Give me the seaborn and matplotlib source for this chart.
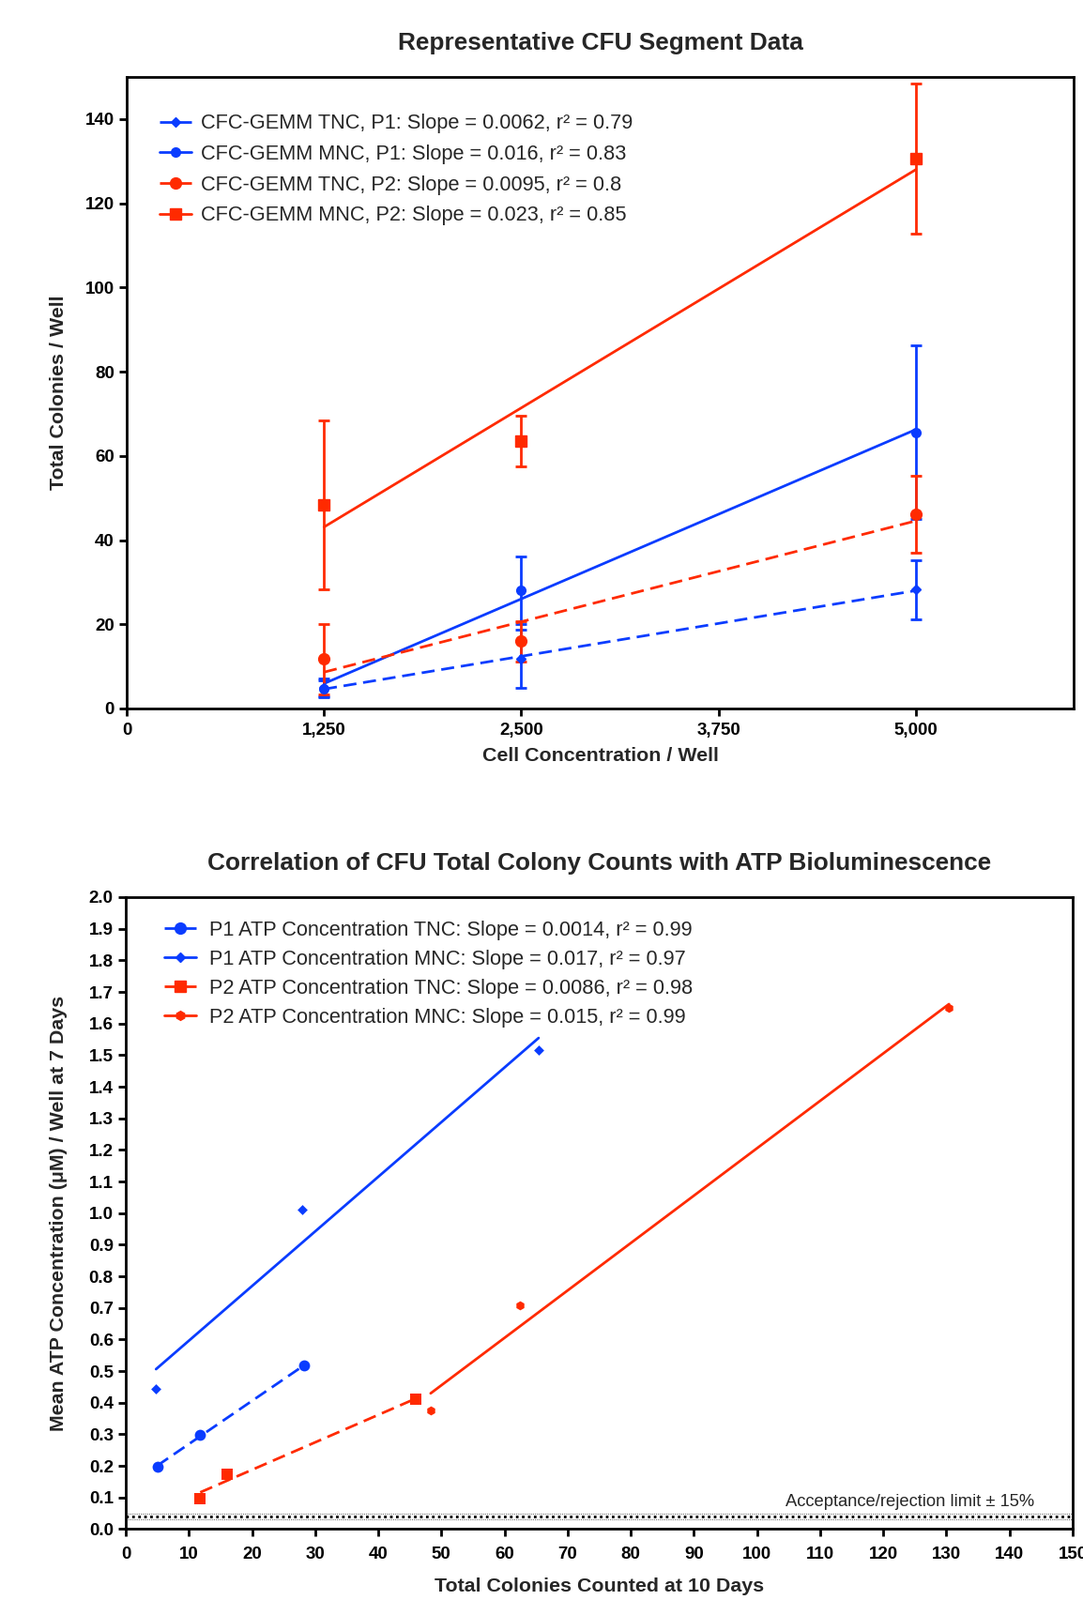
import numpy as np
import matplotlib
matplotlib.use("Agg")
import matplotlib.pyplot as plt
import seaborn as sns
from matplotlib.lines import Line2D

# ---------------- data: top chart ----------------
cell_conc = [1250, 2500, 5000]
tnc_p1_mean = [5.0, 11.8, 28.2]
tnc_p1_err = [2.2, 7.0, 7.0]
mnc_p1_mean = [4.6, 28.0, 65.6]
mnc_p1_err = [2.0, 8.0, 20.6]
tnc_p2_mean = [11.7, 16.0, 46.1]
tnc_p2_err = [8.4, 4.8, 9.2]
mnc_p2_mean = [48.3, 63.6, 130.6]
mnc_p2_err = [20.1, 6.0, 17.9]

top_labels = [
    "CFC-GEMM TNC, P1: Slope = 0.0062, r² = 0.79",
    "CFC-GEMM MNC, P1: Slope = 0.016, r² = 0.83",
    "CFC-GEMM TNC, P2: Slope = 0.0095, r² = 0.8",
    "CFC-GEMM MNC, P2: Slope = 0.023, r² = 0.85",
]
top_xticks = [0, 1250, 2500, 3750, 5000]
top_xticklabels = ["0", "1,250", "2,500", "3,750", "5,000"]
top_yticks = [0, 20, 40, 60, 80, 100, 120, 140]

# ---------------- data: bottom chart ----------------
p1_tnc_x = [5.0, 11.8, 28.3]
p1_tnc_y = [0.198, 0.298, 0.518]
p1_mnc_x = [4.8, 28.0, 65.4]
p1_mnc_y = [0.443, 1.01, 1.515]
p2_tnc_x = [11.8, 16.0, 46.0]
p2_tnc_y = [0.097, 0.175, 0.411]
p2_mnc_x = [48.3, 62.5, 130.4]
p2_mnc_y = [0.375, 0.709, 1.65]

bottom_labels = [
    "P1 ATP Concentration TNC: Slope = 0.0014, r² = 0.99",
    "P1 ATP Concentration MNC: Slope = 0.017, r² = 0.97",
    "P2 ATP Concentration TNC: Slope = 0.0086, r² = 0.98",
    "P2 ATP Concentration MNC: Slope = 0.015, r² = 0.99",
]
bottom_xticks = list(range(0, 151, 10))
bottom_yticks = [round(0.1 * i, 1) for i in range(21)]
acceptance_mid = 0.04
acceptance_band = [0.031, 0.05]
acceptance_text = "Acceptance/rejection limit ± 15%"

# ---------------- style ----------------
sns.set_theme(style="ticks")
plt.rcParams["font.family"] = ["Liberation Sans", "DejaVu Sans"]
plt.rcParams["axes.linewidth"] = 2.0
plt.rcParams["axes.edgecolor"] = "black"
plt.rcParams["xtick.major.width"] = 2.0
plt.rcParams["ytick.major.width"] = 2.0
plt.rcParams["xtick.major.size"] = 6
plt.rcParams["ytick.major.size"] = 6
plt.rcParams["xtick.color"] = "black"
plt.rcParams["ytick.color"] = "black"

BLUE = "#0a3cff"
RED = "#ff2a00"
DASH = (0, (5, 2.6))
TITLE_FS = 18.9
LABEL_FS = 15.4
TICK_FS = 13.5
LEG_FS = 15.7

fig = plt.figure(figsize=(11.54, 17.05), dpi=100)
ax1 = fig.add_axes([0.1170, 0.5572, 0.8744, 0.3947])
ax2 = fig.add_axes([0.1161, 0.0443, 0.8744, 0.3950])

# ---------------- top chart ----------------
top_series = [
    (tnc_p1_mean, tnc_p1_err, BLUE, DASH, "D", 5.5),
    (mnc_p1_mean, mnc_p1_err, BLUE, "-", "o", 7),
    (tnc_p2_mean, tnc_p2_err, RED, DASH, "o", 8.5),
    (mnc_p2_mean, mnc_p2_err, RED, "-", "s", 8.5),
]
handles_top = []
for mean, err, col, ls, mk, ms in top_series:
    sns.regplot(x=np.array(cell_conc, float), y=np.array(mean, float), ax=ax1,
                ci=None, truncate=True, scatter=False, color=col,
                line_kws=dict(lw=2.0, ls=ls))
    ax1.errorbar(cell_conc, mean, yerr=err, fmt=mk, ms=ms, color=col,
                 mec=col, elinewidth=2.0, capsize=4.5, capthick=2.0, ls="none")
    handles_top.append(Line2D([], [], color=col, ls=ls, lw=2.0, marker=mk,
                              ms=ms, mec=col))

ax1.set_xlim(0, 6000)
ax1.set_ylim(0, 150)
ax1.set_xticks(top_xticks)
ax1.set_xticklabels(top_xticklabels)
ax1.set_yticks(top_yticks)
ax1.set_title("Representative CFU Segment Data", fontsize=TITLE_FS,
              fontweight="bold", pad=21)
ax1.set_xlabel("Cell Concentration / Well", fontsize=LABEL_FS,
               fontweight="bold", labelpad=7)
ax1.set_ylabel("Total Colonies / Well", fontsize=LABEL_FS, fontweight="bold",
               labelpad=13.7)
ax1.legend(handles_top, top_labels, loc="upper left",
           bbox_to_anchor=(0.015, 0.971), frameon=False, fontsize=LEG_FS,
           handlelength=1.55, handletextpad=0.5, labelspacing=0.54,
           numpoints=1)

# ---------------- bottom chart ----------------
bottom_series = [
    (p1_tnc_x, p1_tnc_y, BLUE, DASH, "o", 8.5),
    (p1_mnc_x, p1_mnc_y, BLUE, "-", "D", 5.5),
    (p2_tnc_x, p2_tnc_y, RED, DASH, "s", 9),
    (p2_mnc_x, p2_mnc_y, RED, "-", "h", 7),
]
handles_bot = []
for xs, ys, col, ls, mk, ms in bottom_series:
    sns.regplot(x=np.array(xs, float), y=np.array(ys, float), ax=ax2,
                ci=None, truncate=True, scatter=False, color=col,
                line_kws=dict(lw=2.0, ls=ls))
    sns.scatterplot(x=xs, y=ys, ax=ax2, marker=mk, s=ms ** 2, color=col,
                    edgecolor=col, linewidth=0, zorder=3)
    handles_bot.append(Line2D([], [], color=col, ls=ls, lw=2.0, marker=mk,
                              ms=ms, mec=col))

ax2.axhline(acceptance_mid, color="black", ls=(0, (1, 1.3)), lw=2.0, zorder=1)
for v in acceptance_band:
    ax2.axhline(v, color="0.45", ls=(0, (1, 1)), lw=0.8, zorder=1)
ax2.text(143.9, 0.087, acceptance_text, ha="right", va="center", fontsize=13.2)

ax2.set_xlim(0, 150)
ax2.set_ylim(0, 2.0)
ax2.set_xticks(bottom_xticks)
ax2.set_xticklabels([str(v) for v in bottom_xticks])
ax2.set_yticks(bottom_yticks)
ax2.set_yticklabels([f"{v:.1f}" for v in bottom_yticks])
ax2.set_title("Correlation of CFU Total Colony Counts with ATP Bioluminescence",
              fontsize=TITLE_FS, fontweight="bold", pad=21)
ax2.set_xlabel("Total Colonies Counted at 10 Days", fontsize=LABEL_FS,
               fontweight="bold", labelpad=12)
ax2.set_ylabel("Mean ATP Concentration (μM) / Well at 7 Days", fontsize=LABEL_FS,
               fontweight="bold", labelpad=16.3)
ax2.legend(handles_bot, bottom_labels, loc="upper left",
           bbox_to_anchor=(0.021, 0.992), frameon=False, fontsize=LEG_FS,
           handlelength=1.55, handletextpad=0.65, labelspacing=0.46,
           numpoints=1)

for ax in (ax1, ax2):
    for sp in ax.spines.values():
        sp.set_visible(True)
        sp.set_linewidth(2.0)
        sp.set_color("black")
    ax.tick_params(axis="both", which="major", direction="out",
                   labelsize=TICK_FS, pad=3.5)
    for lab in ax.get_xticklabels() + ax.get_yticklabels():
        lab.set_fontweight("bold")
ax1.tick_params(axis="x", pad=4.5)
ax2.tick_params(axis="x", pad=7)

fig.savefig("out.png", dpi=100)
